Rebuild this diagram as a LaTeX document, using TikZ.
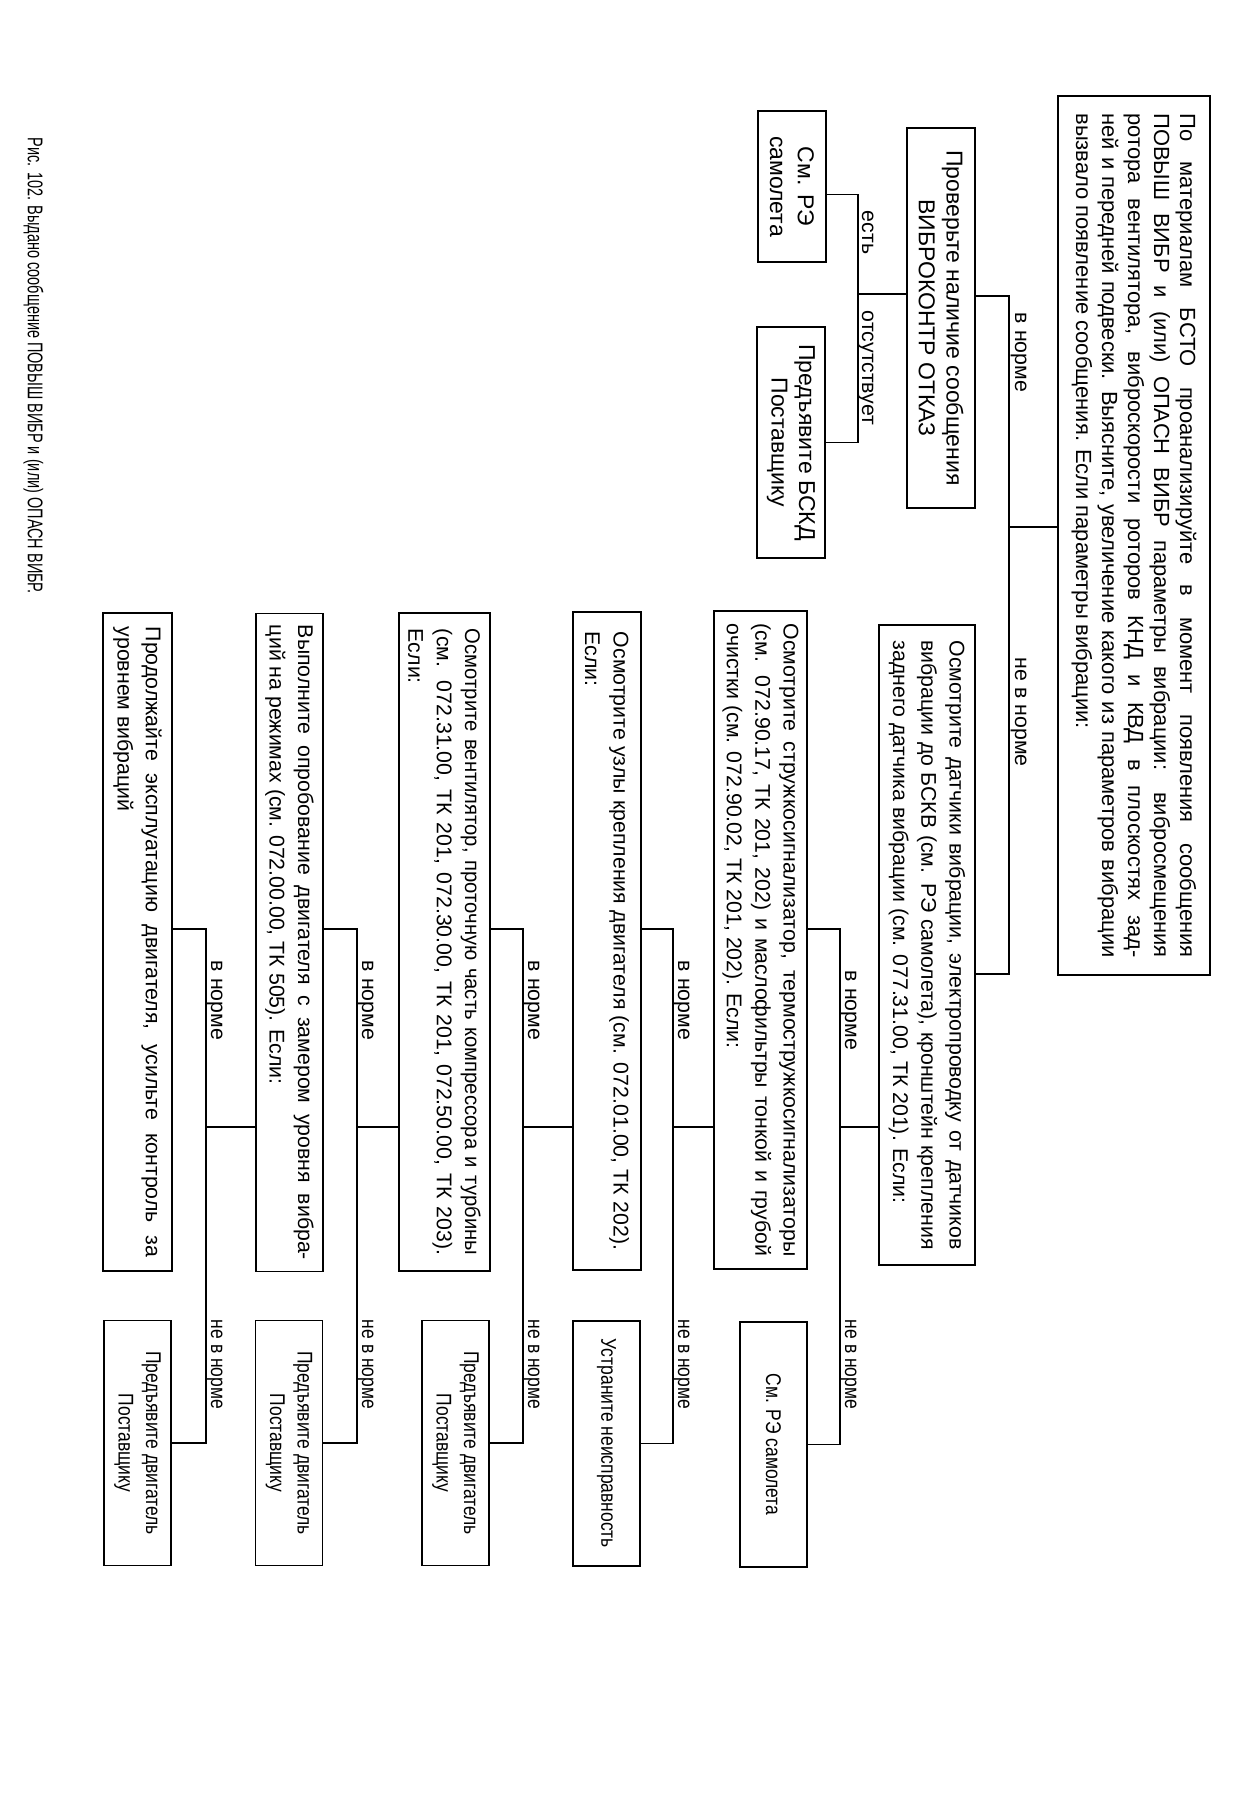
\documentclass[tikz,border=0pt]{standalone}
\usepackage{fontspec}
\setmainfont{Liberation Sans}
\newfontfamily\tightfont{Liberation Sans}[FakeStretch=0.95]
\newfontfamily\narrowfont{Liberation Sans}[FakeStretch=0.82]
\newfontfamily\capfont{Liberation Sans}[FakeStretch=0.68]
\usetikzlibrary{calc}
\hyphenpenalty=10000

\tikzset{
  infobox/.style={draw, rotate=-90, inner sep=0pt, align=justify},
  chainbox/.style={infobox, minimum width=108.6mm, font=\fontsize{10}{13.3}\selectfont},
  resbox/.style={draw, rotate=-90, inner sep=0pt, align=center, minimum width=40.4mm, minimum height=11.1mm, font=\narrowfont\fontsize{10}{13}\selectfont},
  lbl/.style={rotate=-90, inner sep=0pt, anchor=base west, font=\fontsize{10}{12}\selectfont},
  nlbl/.style={lbl, font=\narrowfont\fontsize{10}{12}\selectfont}
}

\begin{document}
\begin{tikzpicture}[x=0.165mm, y=-0.165mm, line width=0.8pt]
        \useasboundingbox (0,0) rectangle (1239,1805);

        % first question
        \node[infobox, font=\fontsize{10.3}{12.2}\selectfont, text width=139.3mm, minimum width=145mm, minimum height=25.1mm] (top) at (1134,535.5) {По материалам БСТО проанализируйте в момент появления сообщения\linebreak ПОВЫШ ВИБР и (или) ОПАСН ВИБР параметры вибрации: вибросмещения\linebreak ротора вентилятора, виброскорости роторов КНД и КВД в плоскостях зад-\linebreak ней и передней подвески. Выясните, увеличение какого из параметров вибрации\linebreak вызвало появление сообщения. Если параметры вибрации:};

        % branch "в норме"
        \node[infobox, align=center, font=\fontsize{10.8}{13}\selectfont, minimum width=62.7mm, minimum height=11.2mm] (chk) at (941,318) {Проверьте наличие сообщения\\ВИБРОКОНТР ОТКАЗ};
        \node[infobox, align=center, font=\fontsize{10.8}{13}\selectfont, minimum width=24.9mm, minimum height=11.2mm] (re0) at (792,186.5) {См. РЭ\\самолета};
        \node[infobox, align=center, font=\fontsize{10.8}{13}\selectfont, minimum width=38.1mm, minimum height=11.2mm] (bskd) at (791,442.5) {Предъявите БСКД\\Поставщику};

        % branch "не в норме"
        \node[chainbox, text width=100.5mm, minimum width=105.6mm, minimum height=15.8mm] (dat) at (927,945) {Осмотрите датчики вибрации, электропроводку от датчиков\linebreak вибрации до БСКВ (см. РЭ самолета), кронштейн крепления\linebreak заднего датчика вибрации (см. 077.31.00, ТК 201). Если:};
        \node[chainbox, text width=104.4mm, minimum height=15.3mm] (str) at (760.5,940) {Осмотрите стружкосигнализатор, термостружкосигнализаторы\linebreak (см. 072.90.17, ТК 201, 202) и маслофильтры тонкой и грубой\linebreak очистки (см. 072.90.02, ТК 201, 202). Если:};
        \node[chainbox, text width=102mm, minimum height=11.2mm] (uzl) at (607,941) {Осмотрите узлы крепления двигателя (см. 072.01.00, ТК 202).\linebreak Если:};
        \node[chainbox, text width=103.3mm, minimum height=15mm] (ven) at (444.5,942) {{\tightfont Осмотрите вентилятор, проточную часть компрессора и турбины}\linebreak (см. 072.31.00, ТК 201, 072.30.00, ТК 201, 072.50.00, ТК 203).\linebreak Если:};
        \node[chainbox, text width=104.8mm, minimum height=11.1mm] (opr) at (289.5,942.5) {Выполните опробование двигателя с замером уровня вибра-\linebreak ций на режимах (см. 072.00.00, ТК 505). Если:};
        \node[chainbox, text width=104mm, minimum height=11.4mm] (prd) at (137.5,942) {Продолжайте эксплуатацию двигателя, усильте контроль за\linebreak уровнем вибраций};

        \node[resbox] (res1) at (773.5,1444.5) {См. РЭ самолета};
        \node[resbox] (res2) at (606.5,1443.5) {Устраните неисправность};
        \node[resbox] (res3) at (455.5,1443) {Предъявите двигатель\\Поставщику};
        \node[resbox] (res4) at (289,1443) {Предъявите двигатель\\Поставщику};
        \node[resbox] (res5) at (137.5,1443) {Предъявите двигатель\\Поставщику};

        % junctions
        \coordinate (jT) at (1009,527);
        \coordinate (jC) at (858,294);
        \coordinate (j1) at (840,1127);
        \coordinate (j2) at (673,1127);
        \coordinate (j3) at (523,1127);
        \coordinate (j4) at (357,1127);
        \coordinate (j5) at (206,1127);

        \draw (top.south |- jT) -- (jT);
        \draw ($(chk.north)+(0,-22)$) -| (jT) |- ($(dat.north)+(0,29)$);
        \draw (chk.south |- jC) -- (jC);
        \draw ($(re0.north)+(0,8)$) -| (jC) |- (bskd.north);

        \draw (dat.south |- j1) -- (j1);
        \draw (str.north |- 0,929) -| (j1) |- (res1.north);
        \draw (str.south |- j2) -- (j2);
        \draw (uzl.north |- 0,929) -| (j2) |- (res2.north);
        \draw (uzl.south |- j3) -- (j3);
        \draw (ven.north |- 0,929) -| (j3) |- (res3.north);
        \draw (ven.south |- j4) -- (j4);
        \draw (opr.north |- 0,929) -| (j4) |- (res4.north);
        \draw (opr.south |- j5) -- (j5);
        \draw (prd.north |- 0,929) -| (j5) |- (res5.north);

        % labels
        \node[lbl] (ltA) at (1015,312) {в норме};
        \node[lbl] (ltB) at (1015,657) {не в норме};
        \node[lbl] (lcA) at (862,210) {есть};
        \node[lbl] (lcB) at (862,310) {отсутствует};
        \node[lbl] (l1a) at (845,970) {в норме};
        \node[nlbl] (l1b) at (845,1319) {не в норме};
        \node[lbl] (l2a) at (678,960) {в норме};
        \node[nlbl] (l2b) at (678,1319) {не в норме};
        \node[lbl] (l3a) at (528,960) {в норме};
        \node[nlbl] (l3b) at (528,1319) {не в норме};
        \node[lbl] (l4a) at (362,960) {в норме};
        \node[nlbl] (l4b) at (362,1319) {не в норме};
        \node[lbl] (l5a) at (211,960) {в норме};
        \node[nlbl] (l5b) at (211,1319) {не в норме};

        \node[lbl, font=\capfont\fontsize{10}{12}\selectfont] (cap) at (28,137) {Рис. 102. Выдано сообщение ПОВЫШ ВИБР и (или) ОПАСН ВИБР.};
\end{tikzpicture}
\end{document}
